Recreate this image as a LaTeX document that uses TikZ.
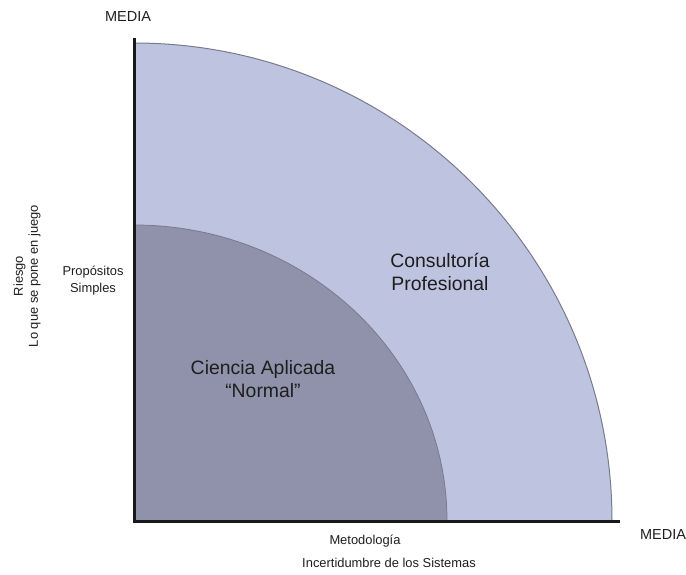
\documentclass[tikz,border=0pt]{standalone}
\usepackage{fontspec}
\setmainfont{Liberation Sans}
\definecolor{outerfill}{RGB}{190,196,224}
\definecolor{innerfill}{RGB}{144,146,171}
\definecolor{edgegray}{RGB}{120,123,140}
\definecolor{txt}{RGB}{30,30,30}
\tikzset{
  lbl/.style={text=txt, inner sep=0pt, align=center, font=\fontsize{12.9}{17}\selectfont},
  biglbl/.style={text=txt, inner sep=0pt, align=center, font=\fontsize{19.4}{23}\selectfont},
  medlbl/.style={text=txt, inner sep=0pt, font=\fontsize{14.5}{17}\selectfont},
  axisline/.style={line width=3pt, black!90}
}
\begin{document}
\begin{tikzpicture}[x=1pt,y=-1pt]
\useasboundingbox (0,0) rectangle (686,574);
% outer quarter
\fill[outerfill] (134,521) -- (612,521) arc[start angle=0,end angle=90,x radius=478pt,y radius=478pt] -- cycle;
\draw[edgegray, line width=1pt] (612,521) arc[start angle=0,end angle=90,x radius=478pt,y radius=478pt];
% inner quarter
\fill[innerfill] (134,521) -- (447,521) arc[start angle=0,end angle=90,x radius=313pt,y radius=296pt] -- cycle;
\draw[edgegray, line width=0.8pt] (447,521) arc[start angle=0,end angle=90,x radius=313pt,y radius=296pt];
% axes
\coordinate (origin) at (134,521);
\coordinate (ytop) at (134,38);
\coordinate (xend) at (620,521);
\draw[axisline] (ytop) -- (origin) -- (xend);
% labels
\node[medlbl] (mediatop) at (128,17) {MEDIA};
\node[medlbl] (mediaright) at (663,535) {MEDIA};
\node[lbl] (metodo) at (365,541) {Metodología};
\node[lbl] (incert) at (389,563) {Incertidumbre de los Sistemas};
\node[lbl] (propositos) at (93,281) {Propósitos\\Simples};
\node[lbl, rotate=90, font=\fontsize{12.9}{15}\selectfont] (riesgo) at (27,276) {Riesgo\\Lo que se pone en juego};
\node[biglbl] (consult) at (440,272) {Consultoría\\Profesional};
\node[biglbl] (ciencia) at (263,379) {Ciencia Aplicada\\“Normal”};
\end{tikzpicture}
\end{document}
